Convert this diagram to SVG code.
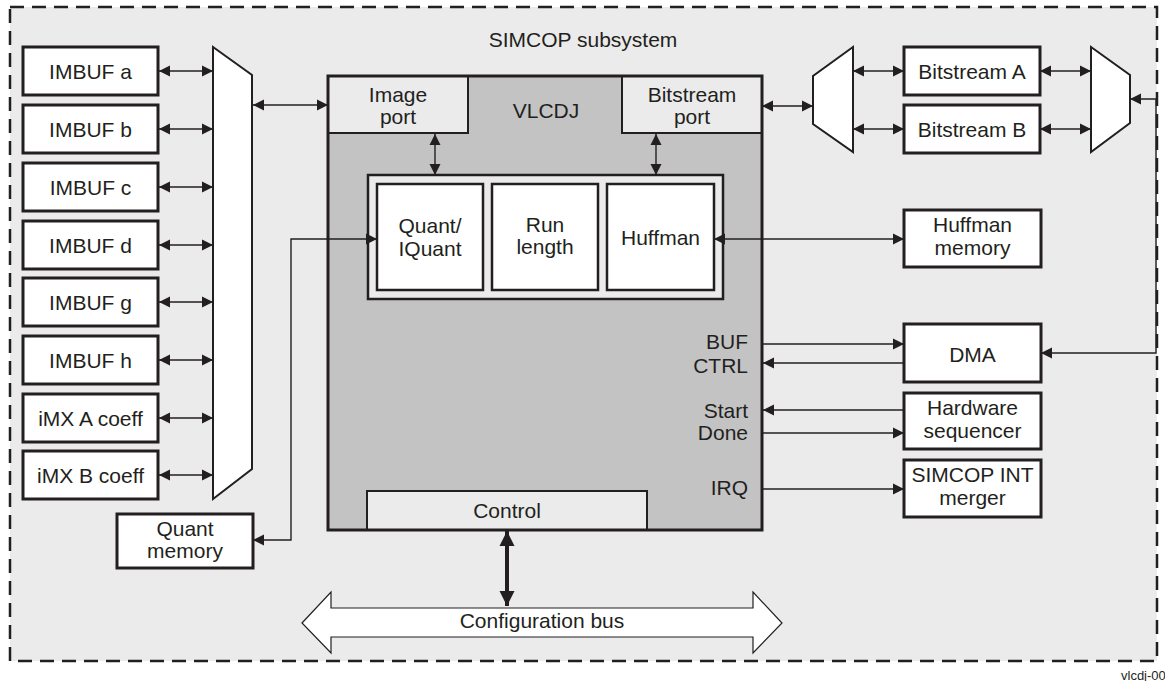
<svg xmlns="http://www.w3.org/2000/svg" width="1165" height="681" viewBox="0 0 1165 681">
<style>
text{font-family:"Liberation Sans",Arial,sans-serif;font-size:21px;fill:#231f20}
.c{text-anchor:middle}
.r{text-anchor:end}
.box{fill:#fff;stroke:#231f20;stroke-width:3}
.lbox{fill:#ebebeb;stroke:#231f20;stroke-width:2}
.mux{fill:#fff;stroke:#231f20;stroke-width:2;stroke-linejoin:miter}
.ln{fill:none;stroke:#231f20;stroke-width:1.4}
.bi{marker-start:url(#ah);marker-end:url(#ah)}
.uni{marker-end:url(#ah)}
</style>
<defs>
<marker id="ah" markerUnits="userSpaceOnUse" markerWidth="12" markerHeight="12" refX="11" refY="6" orient="auto-start-reverse" viewBox="0 0 12 12">
<path d="M0,0.5 L11,6 L0,11.5 z" fill="#231f20"/>
</marker>
<marker id="ahb" markerUnits="userSpaceOnUse" markerWidth="16" markerHeight="16" refX="15" refY="8" orient="auto-start-reverse" viewBox="0 0 16 16">
<path d="M0,0.5 L15,8 L0,15.5 z" fill="#231f20"/>
</marker>
</defs>

<g id="subsystem">
<rect x="10" y="7" width="1147" height="654" fill="#ebebeb" stroke="#231f20" stroke-width="2.5" stroke-dasharray="14 8"/>
<text class="c" x="583" y="47">SIMCOP subsystem</text>
</g>

<g id="imbuf-a"><rect class="box" x="23" y="47" width="135" height="48"/><text class="c" x="90.5" y="79">IMBUF a</text></g>
<g id="imbuf-b"><rect class="box" x="23" y="105" width="135" height="48"/><text class="c" x="90.5" y="137">IMBUF b</text></g>
<g id="imbuf-c"><rect class="box" x="23" y="163" width="135" height="48"/><text class="c" x="90.5" y="195">IMBUF c</text></g>
<g id="imbuf-d"><rect class="box" x="23" y="221" width="135" height="48"/><text class="c" x="90.5" y="253">IMBUF d</text></g>
<g id="imbuf-g"><rect class="box" x="23" y="278" width="135" height="48"/><text class="c" x="90.5" y="310">IMBUF g</text></g>
<g id="imbuf-h"><rect class="box" x="23" y="336" width="135" height="48"/><text class="c" x="90.5" y="368">IMBUF h</text></g>
<g id="imx-a"><rect class="box" x="23" y="394" width="135" height="48"/><text class="c" x="90.5" y="426">iMX A coeff</text></g>
<g id="imx-b"><rect class="box" x="23" y="451" width="135" height="48"/><text class="c" x="90.5" y="483">iMX B coeff</text></g>

<g id="left-mux"><polygon class="mux" points="213,47 252,75 252,469 213,499"/></g>

<g id="quant-memory"><rect class="box" x="117" y="514" width="136" height="54"/><text class="c" x="185" y="536">Quant</text><text class="c" x="185" y="558">memory</text></g>

<g id="vlcdj">
<rect x="328" y="76" width="434" height="454" fill="#c3c3c3"/>
<rect class="lbox" x="328" y="76" width="140" height="57"/>
<rect class="lbox" x="622" y="76" width="140" height="57"/>
<rect class="lbox" x="367" y="491" width="280" height="39"/>
<rect x="328" y="76" width="434" height="454" fill="none" stroke="#231f20" stroke-width="3"/>
<text class="c" x="398" y="102">Image</text><text class="c" x="398" y="124">port</text>
<text class="c" x="692" y="102">Bitstream</text><text class="c" x="692" y="124">port</text>
<text class="c" x="546" y="118">VLCDJ</text>
<text class="c" x="507" y="518">Control</text>
<text class="r" x="748" y="349">BUF</text>
<text class="r" x="748" y="373">CTRL</text>
<text class="r" x="748" y="418">Start</text>
<text class="r" x="748" y="440">Done</text>
<text class="r" x="748" y="495">IRQ</text>
</g>

<g id="core">
<rect x="368" y="175" width="355" height="124" fill="#ebebeb" stroke="#231f20" stroke-width="2.5"/>
</g>
<g id="quant"><rect x="377" y="184" width="106" height="106" fill="#fff" stroke="#231f20" stroke-width="2.5"/><text class="c" x="430" y="233">Quant/</text><text class="c" x="430" y="256">IQuant</text></g>
<g id="runlength"><rect x="492" y="184" width="106" height="106" fill="#fff" stroke="#231f20" stroke-width="2.5"/><text class="c" x="545" y="232">Run</text><text class="c" x="545" y="254">length</text></g>
<g id="huffman"><rect x="607" y="184" width="107" height="106" fill="#fff" stroke="#231f20" stroke-width="2.5"/><text class="c" x="660.5" y="245">Huffman</text></g>

<g id="bs-left-mux"><polygon class="mux" points="853,47 813,76 813,124 853,152"/></g>
<g id="bitstream-a"><rect class="box" x="904" y="47" width="136" height="48"/><text class="c" x="972" y="79">Bitstream A</text></g>
<g id="bitstream-b"><rect class="box" x="904" y="105" width="136" height="48"/><text class="c" x="972" y="137">Bitstream B</text></g>
<g id="bs-right-mux"><polygon class="mux" points="1091,47 1130,75 1130,123 1091,152"/></g>

<g id="huffman-memory"><rect class="box" x="904" y="210" width="137" height="57"/><text class="c" x="972.5" y="232">Huffman</text><text class="c" x="972.5" y="255">memory</text></g>
<g id="dma"><rect class="box" x="904" y="324" width="137" height="58"/><text class="c" x="972.5" y="362">DMA</text></g>
<g id="hw-seq"><rect class="box" x="904" y="393" width="137" height="56"/><text class="c" x="972.5" y="415">Hardware</text><text class="c" x="972.5" y="438">sequencer</text></g>
<g id="int-merger"><rect class="box" x="904" y="460" width="137" height="57"/><text class="c" x="972.5" y="482">SIMCOP INT</text><text class="c" x="972.5" y="505">merger</text></g>

<g id="config-bus">
<polygon points="302,623 331,592 331,608 753,608 753,592 782,623 753,653 753,637 331,637 331,653" fill="#fff" stroke="#231f20" stroke-width="1.2"/>
<text class="c" x="542" y="628">Configuration bus</text>
</g>

<g id="connectors">
<path class="ln bi" d="M159,71 H213"/>
<path class="ln bi" d="M159,129 H213"/>
<path class="ln bi" d="M159,187 H213"/>
<path class="ln bi" d="M159,245 H213"/>
<path class="ln bi" d="M159,302 H213"/>
<path class="ln bi" d="M159,360 H213"/>
<path class="ln bi" d="M159,418 H213"/>
<path class="ln bi" d="M159,475 H213"/>
<path class="ln bi" d="M253,105 H328"/>
<path class="ln bi" d="M435,134 V175"/>
<path class="ln bi" d="M656,134 V175"/>
<path class="ln bi" d="M253,540 H291 V239 H377"/>
<path class="ln bi" d="M714,239 H904"/>
<path class="ln bi" d="M762,106 H813"/>
<path class="ln bi" d="M853,71 H904"/>
<path class="ln bi" d="M853,129 H904"/>
<path class="ln bi" d="M1040,71 H1091"/>
<path class="ln bi" d="M1040,129 H1091"/>
<path class="ln bi" d="M1041,353 H1156 V99 H1130"/>
<path class="ln uni" d="M763,344 H904"/>
<path class="ln uni" d="M904,363 H763"/>
<path class="ln uni" d="M904,410 H763"/>
<path class="ln uni" d="M763,433 H904"/>
<path class="ln uni" d="M763,489 H904"/>
<path d="M507,531 V606" fill="none" stroke="#231f20" stroke-width="4" marker-start="url(#ahb)" marker-end="url(#ahb)"/>
</g>

<text x="1121" y="680" style="font-size:13px">vlcdj-00</text>
</svg>
